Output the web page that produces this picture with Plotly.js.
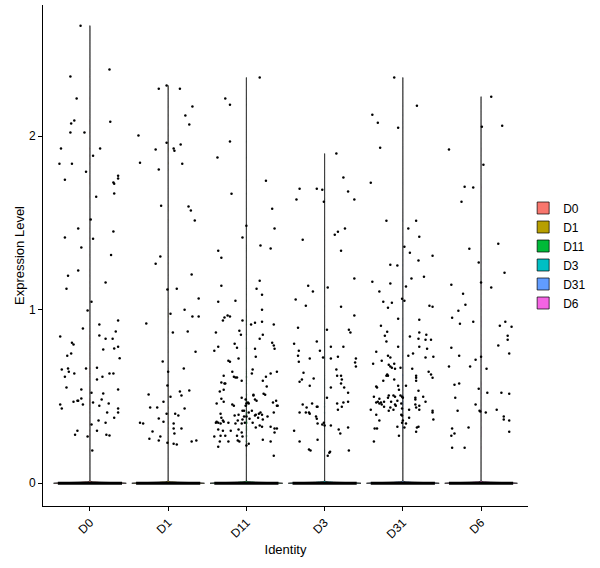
<!DOCTYPE html>
<html>
<head>
<meta charset="utf-8">
<script src="https://cdn.plot.ly/plotly-3.0.1.min.js"></script>
<style>
  html, body { margin: 0; padding: 0; background: #fff; }
  #plot { width: 600px; height: 568px; }
</style>
</head>
<body>
<div id="plot"></div>
<script>
// identities and their ggplot hue colours
var groups = ['D0', 'D1', 'D11', 'D3', 'D31', 'D6'];
var fillColors = ['#F8766D', '#B79F00', '#00BA38', '#00BFC4', '#619CFF', '#F564E3'];

// cells with zero expression (estimated, they overlap into one thick line)
var zeroCounts = [520, 610, 480, 690, 530, 640];
var zeroJitter = 0.41;

// non-zero cells: horizontal jitter (in category units) and expression level
var d0Jit = [-0.12, 0.25, -0.25, -0.17, -0.20, 0.26, -0.24, -0.25, -0.07, -0.37, 0.13, 0.04, -0.39, -0.23, -0.05, 0.36, 0.36, 0.30, 0.31, -0.32, 0.31, 0.08, 0.01, -0.15, 0.30, -0.32, 0.04, -0.11,
  0.27, -0.15, -0.28, -0.30, 0.20, 0.02, -0.03, 0.36, -0.09, 0.12, -0.38, 0.33, 0.12, 0.20, 0.29, -0.23, -0.21, 0.36, 0.17, 0.31, -0.29, -0.24, 0.38, -0.05, -0.36, -0.28, -0.27, 0.09, -0.32, -0.20, 0.25, 0.09, 0.16, 0.30,
  -0.30, -0.11, 0.36, 0.02, 0.17, -0.16, -0.21, -0.15, -0.11, 0.15, 0.04, -0.09, 0.24, -0.38, -0.36, 0.12, 0.36, 0.36, 0.22, 0.31, 0.11, 0.02, 0.20, -0.19, -0.16, 0.09, -0.03, 0.21, 0.25, 0.03];
var d0Val = [2.636, 2.383, 2.343, 2.216, 2.089, 2.083, 2.072, 2.020, 2.020, 1.928, 1.928, 1.887, 1.841, 1.841, 1.795, 1.772, 1.755, 1.732, 1.726, 1.749, 1.669, 1.651, 1.519, 1.467, 1.450, 1.415, 1.409, 1.358,
  1.315, 1.225, 1.196, 1.121, 1.156, 1.046, 0.995, 0.937, 0.891, 0.914, 0.845, 0.874, 0.851, 0.833, 0.833, 0.810, 0.799, 0.787, 0.770, 0.776, 0.735, 0.747, 0.720, 0.661, 0.655, 0.661, 0.643, 0.666, 0.614, 0.632, 0.632, 0.597, 0.614, 0.632,
  0.551, 0.540, 0.540, 0.522, 0.517, 0.476, 0.470, 0.476, 0.488, 0.482, 0.465, 0.453, 0.459, 0.453, 0.430, 0.447, 0.430, 0.407, 0.407, 0.378, 0.361, 0.338, 0.349, 0.280, 0.303, 0.303, 0.269, 0.280, 0.275, 0.188];

var d1Jit = [-0.02, -0.12, 0.15, 0.31, 0.22, 0.27, -0.38, -0.02, 0.16, -0.16, 0.07, 0.08, -0.36, 0.18, -0.12, -0.09, 0.26, 0.29, 0.34,
  -0.10, -0.16, 0.30, -0.01, 0.11, 0.39, 0.03, 0.21, 0.31, 0.39, -0.28, 0.06, 0.25, 0.35, -0.07, 0.20, 0.00, -0.01, 0.03, 0.15, 0.17, 0.27, -0.25, -0.06, -0.23, -0.14, 0.21, -0.02, 0.09, 0.13,
  -0.36, -0.32, -0.12, -0.06, 0.07, 0.07, 0.17, -0.20, 0.08, -0.01, 0.07, 0.11, -0.24, -0.12, -0.10, 0.30, 0.36];
var d1Val = [2.291, 2.273, 2.273, 2.170, 2.118, 2.066, 2.003, 1.962, 1.951, 1.922, 1.928, 1.916, 1.847, 1.841, 1.807, 1.599, 1.594, 1.571, 1.513,
  1.306, 1.265, 1.202, 1.116, 1.121, 1.064, 0.977, 1.000, 0.960, 0.960, 0.920, 0.868, 0.874, 0.758, 0.701, 0.661, 0.643, 0.563, 0.499, 0.528, 0.505, 0.534, 0.511, 0.470, 0.436, 0.436, 0.430, 0.401, 0.401, 0.390,
  0.349, 0.344, 0.373, 0.355, 0.344, 0.315, 0.315, 0.298, 0.286, 0.234, 0.228, 0.223, 0.257, 0.246, 0.269, 0.240, 0.246];

var d11Jit = [0.17, -0.27, -0.21, -0.21, -0.37, 0.25, -0.19, 0.33, 0.00, 0.36, -0.05, -0.36, 0.18, 0.31, -0.32,
  -0.32, 0.17, 0.13, 0.20, -0.36, -0.14, 0.20, -0.24, -0.28, -0.30, -0.21, -0.05, 0.11, 0.06, 0.20, 0.35, -0.09, -0.39, -0.07, 0.21, 0.17, -0.15, -0.36, -0.12, -0.41, 0.33, 0.35, 0.36, 0.11,
  -0.23, -0.21, -0.10, 0.12, -0.18, 0.08, -0.29, 0.07, -0.16, -0.14, -0.12, 0.39, 0.31, 0.25, -0.06, 0.21, -0.32, -0.28, -0.27, 0.26, -0.29, -0.34,
  -0.06, 0.09, 0.09, 0.22, 0.24, -0.01, 0.11, 0.13, -0.32, 0.38, 0.00, 0.02, 0.03, -0.38, -0.29, -0.18, -0.16, -0.01, 0.34, 0.39, 0.40,
  -0.05, -0.03, 0.07, 0.03, 0.18, 0.35, -0.33, 0.16, 0.11, 0.12, 0.20, -0.32, -0.10, -0.15, -0.03, 0.00, 0.04, 0.27, 0.15, 0.21, -0.30, -0.11, -0.05,
  -0.36, -0.38, -0.39, -0.33, -0.29, -0.23, -0.14, -0.06, -0.02, 0.08, 0.17, 0.20, 0.31, 0.12, 0.36, 0.39, -0.36, -0.30, -0.10, -0.20, -0.06, 0.36,
  -0.41, -0.33, -0.27, -0.12, -0.05, -0.34, -0.23, -0.11, -0.09, 0.21, 0.31, 0.03, -0.36, 0.00, 0.35];
var d11Val = [2.337, 2.216, 2.181, 1.968, 1.876, 1.743, 1.668, 1.582, 1.484, 1.467, 1.415, 1.340, 1.369, 1.352, 1.299,
  1.138, 1.167, 1.121, 1.086, 1.046, 1.052, 1.000, 0.966, 0.955, 0.937, 0.960, 0.937, 0.925, 0.914, 0.931, 0.914, 0.879, 0.868, 0.856, 0.856, 0.833, 0.804, 0.787, 0.781, 0.764, 0.810, 0.793, 0.775, 0.775,
  0.706, 0.700, 0.718, 0.729, 0.643, 0.655, 0.620, 0.632, 0.614, 0.609, 0.609, 0.643, 0.632, 0.614, 0.591, 0.591, 0.580, 0.574, 0.574, 0.557, 0.539, 0.528,
  0.493, 0.510, 0.505, 0.516, 0.510, 0.482, 0.482, 0.476, 0.487, 0.476, 0.459, 0.465, 0.459, 0.459, 0.470, 0.453, 0.447, 0.447, 0.465, 0.447, 0.447,
  0.418, 0.418, 0.418, 0.407, 0.407, 0.407, 0.401, 0.401, 0.390, 0.395, 0.395, 0.378, 0.395, 0.390, 0.384, 0.384, 0.372, 0.384, 0.378, 0.367, 0.361, 0.361, 0.367,
  0.349, 0.355, 0.349, 0.344, 0.355, 0.349, 0.344, 0.344, 0.349, 0.349, 0.332, 0.326, 0.326, 0.321, 0.315, 0.315, 0.309, 0.303, 0.309, 0.303, 0.292, 0.292,
  0.269, 0.274, 0.274, 0.274, 0.269, 0.240, 0.240, 0.246, 0.240, 0.251, 0.240, 0.228, 0.211, 0.217, 0.159];

var d3Jit = [0.15, 0.24, -0.32, -0.10, -0.03, 0.30, -0.36, 0.38, -0.01, 0.26, 0.17, 0.13, -0.28, 0.21,
  -0.21, -0.15, -0.37, -0.24, -0.34, -0.39, -0.10, -0.33, -0.06, -0.34, -0.19, -0.02, -0.33, -0.27, -0.14, -0.29, -0.32, -0.19, -0.28, -0.23, -0.16, -0.10, -0.09,
  -0.32, -0.24, -0.20, -0.19, -0.11, -0.10, -0.09, -0.03, -0.01, 0.00, -0.39, -0.09, -0.32, -0.20, -0.18,
  0.04, 0.38, 0.21, 0.38, 0.03, 0.31, 0.33, 0.08, 0.24, 0.17, 0.08, 0.40, 0.39, 0.40, 0.15, 0.21, 0.16, 0.22, 0.21, 0.08, 0.25, 0.30, 0.03, 0.30, 0.16, 0.24, 0.22, 0.17,
  0.08, 0.18, 0.20, 0.30, 0.31, 0.07, 0.06, 0.04];
var d3Val = [1.899, 1.761, 1.697, 1.697, 1.691, 1.680, 1.634, 1.634, 1.622, 1.467, 1.449, 1.432, 1.403, 1.340,
  1.138, 1.104, 1.058, 1.023, 0.896, 0.804, 0.816, 0.764, 0.764, 0.735, 0.718, 0.724, 0.700, 0.637, 0.603, 0.597, 0.585, 0.562, 0.453, 0.436, 0.459, 0.441, 0.441,
  0.407, 0.407, 0.407, 0.401, 0.384, 0.372, 0.344, 0.338, 0.349, 0.332, 0.303, 0.251, 0.240, 0.194, 0.188,
  1.127, 1.179, 1.017, 0.966, 0.885, 0.885, 0.868, 0.787, 0.787, 0.729, 0.718, 0.718, 0.695, 0.672, 0.655, 0.620, 0.620, 0.597, 0.574, 0.551, 0.551, 0.522, 0.493, 0.470, 0.459, 0.465, 0.441, 0.424,
  0.332, 0.309, 0.286, 0.321, 0.188, 0.182, 0.176, 0.159];

var d31Jit = [-0.11, 0.18, -0.39, -0.32, -0.06, -0.29, -0.41, -0.21, 0.17, 0.07, 0.21, 0.02, 0.09, 0.38,
  -0.16, -0.07, 0.20, -0.39, -0.16, 0.11, 0.27, 0.04, -0.30, -0.25, -0.14, -0.01, 0.02, -0.19, 0.34, 0.38, -0.06, 0.21, -0.28, -0.20, -0.23, 0.09, 0.21, 0.30, 0.20, 0.29, 0.36, -0.21,
  0.21, 0.31, -0.06, -0.34, 0.13, 0.07, -0.19, -0.16, -0.27, 0.29, 0.39, -0.38, -0.18, -0.11, -0.16, -0.14, -0.10, -0.03, 0.12, 0.33, 0.36, 0.38, -0.20, -0.19, -0.21, -0.25, -0.11, 0.17, 0.17, 0.17,
  -0.34, -0.33, -0.06, 0.04, -0.05, 0.20, -0.37, -0.18, -0.12, -0.10, -0.19, -0.03, -0.01, -0.30, 0.00, 0.16, 0.16, 0.26,
  -0.32, -0.34, -0.28, -0.24, -0.15, -0.07, -0.30, -0.27, -0.10, -0.02, 0.29, 0.16, 0.21, -0.24, -0.16, -0.09, 0.17, 0.21, -0.41, -0.18, -0.12, -0.01, 0.08, 0.38, 0.38,
  -0.34, -0.02, -0.01, 0.08, -0.30, 0.00, 0.39, 0.04, -0.01, -0.07, 0.02, 0.20, 0.18, -0.36, -0.33, 0.17, -0.05, -0.37];
var d31Val = [2.337, 2.175, 2.123, 2.077, 2.048, 1.933, 1.731, 1.512, 1.512, 1.467, 1.420, 1.363, 1.328, 1.311,
  1.259, 1.254, 1.283, 1.161, 1.150, 1.179, 1.190, 1.133, 1.104, 1.046, 1.040, 1.063, 1.052, 1.011, 1.023, 1.017, 0.948, 0.942, 0.908, 0.873, 0.850, 0.845, 0.868, 0.856, 0.833, 0.827, 0.827, 0.816,
  0.787, 0.775, 0.787, 0.758, 0.747, 0.735, 0.735, 0.724, 0.706, 0.724, 0.729, 0.689, 0.683, 0.689, 0.672, 0.666, 0.660, 0.666, 0.660, 0.643, 0.626, 0.608, 0.626, 0.620, 0.620, 0.591, 0.597, 0.620, 0.608, 0.591,
  0.557, 0.551, 0.562, 0.562, 0.539, 0.533, 0.499, 0.505, 0.505, 0.499, 0.493, 0.505, 0.499, 0.487, 0.493, 0.493, 0.482, 0.499,
  0.470, 0.465, 0.465, 0.470, 0.470, 0.476, 0.459, 0.453, 0.453, 0.459, 0.470, 0.453, 0.447, 0.441, 0.436, 0.447, 0.436, 0.424, 0.424, 0.418, 0.424, 0.430, 0.424, 0.418, 0.407,
  0.395, 0.395, 0.390, 0.378, 0.361, 0.361, 0.367, 0.344, 0.349, 0.326, 0.321, 0.326, 0.321, 0.315, 0.315, 0.297, 0.274, 0.240];

var d6Jit = [0.13, 0.27, 0.01, -0.41, 0.03, -0.21, -0.10, -0.25, 0.22, -0.15,
  -0.03, 0.30, -0.38, 0.00, 0.13, -0.23, -0.20, -0.29, -0.37, -0.10, -0.27, 0.31, 0.24, 0.39, 0.34, 0.34, 0.22, -0.38, 0.36, -0.28, 0.00, -0.07, -0.41, -0.14, 0.07,
  -0.34, -0.28, -0.03, 0.08, 0.26, 0.36, -0.33, -0.07, 0.20, -0.02, -0.01, 0.06, -0.30, 0.29, 0.29, 0.36, -0.16, -0.37, -0.34, -0.38, 0.36, -0.37, -0.21];
var d6Val = [2.227, 2.060, 2.054, 1.922, 1.835, 1.708, 1.703, 1.622, 1.380, 1.351,
  1.271, 1.213, 1.144, 1.156, 1.127, 1.092, 1.029, 0.994, 0.954, 0.931, 0.919, 0.931, 0.908, 0.902, 0.850, 0.827, 0.793, 0.781, 0.747, 0.735, 0.729, 0.712, 0.672, 0.672, 0.660,
  0.568, 0.574, 0.545, 0.522, 0.522, 0.516, 0.493, 0.453, 0.424, 0.418, 0.413, 0.407, 0.418, 0.384, 0.367, 0.361, 0.321, 0.315, 0.286, 0.274, 0.297, 0.205, 0.205];

var pointJit = [d0Jit, d1Jit, d11Jit, d3Jit, d31Jit, d6Jit];
var pointVal = [d0Val, d1Val, d11Val, d3Val, d31Val, d6Val];

var font = 'Liberation Sans, Arial, sans-serif';
var traces = [];

// violins (mostly zeros, so they collapse to a base line and a thin stem)
groups.forEach(function (g, i) {
  var y = new Array(zeroCounts[i]).fill(0).concat(pointVal[i]);
  traces.push({
    type: 'violin',
    name: g,
    x0: i,
    y: y,
    orientation: 'v',
    spanmode: 'hard',
    bandwidth: 0.004,
    scalemode: 'width',
    width: 0.93,
    points: false,
    box: { visible: false },
    meanline: { visible: false },
    fillcolor: fillColors[i],
    line: { color: '#000000', width: 0.7 },
    hoverinfo: 'skip'
  });
});

// overlapping zero cells
groups.forEach(function (g, i) {
  traces.push({
    type: 'scatter',
    mode: 'lines',
    x: [i - zeroJitter, i + zeroJitter],
    y: [0, 0],
    line: { color: '#000000', width: 3 },
    showlegend: false,
    hoverinfo: 'skip'
  });
});

// jittered non-zero cells
groups.forEach(function (g, i) {
  traces.push({
    type: 'scatter',
    mode: 'markers',
    x: pointJit[i].map(function (j) { return i + j; }),
    y: pointVal[i],
    marker: { color: '#000000', size: 2.5 },
    showlegend: false,
    hoverinfo: 'skip'
  });
});

var layout = {
  width: 600,
  height: 568,
  margin: { l: 43, r: 72, t: 5, b: 62 },
  paper_bgcolor: '#ffffff',
  plot_bgcolor: '#ffffff',
  font: { family: font, size: 12, color: '#000000' },
  violinmode: 'overlay',
  showlegend: true,
  legend: {
    x: 0.99, xanchor: 'left', y: 0.5, yanchor: 'middle',
    font: { family: font, size: 12, color: '#000000' },
    itemwidth: 30,
    tracegroupgap: 0
  },
  xaxis: {
    range: [-0.6, 5.6],
    tickmode: 'array',
    tickvals: [0, 1, 2, 3, 4, 5],
    ticktext: groups,
    tickangle: -45,
    ticks: 'outside', ticklen: 4, tickcolor: '#000000',
    showline: true, linecolor: '#000000', linewidth: 1,
    showgrid: false, zeroline: false,
    tickfont: { family: font, size: 12, color: '#000000' },
    title: { text: 'Identity', font: { family: font, size: 13, color: '#000000' }, standoff: 4 }
  },
  yaxis: {
    range: [-0.131, 2.755],
    tickvals: [0, 1, 2],
    ticks: 'outside', ticklen: 4, tickcolor: '#000000',
    showline: true, linecolor: '#000000', linewidth: 1,
    showgrid: false, zeroline: false,
    tickfont: { family: font, size: 12, color: '#000000' },
    title: { text: 'Expression Level', font: { family: font, size: 13, color: '#000000' }, standoff: 1 }
  }
};

Plotly.newPlot('plot', traces, layout, { displayModeBar: false, staticPlot: true });
</script>
</body>
</html>
